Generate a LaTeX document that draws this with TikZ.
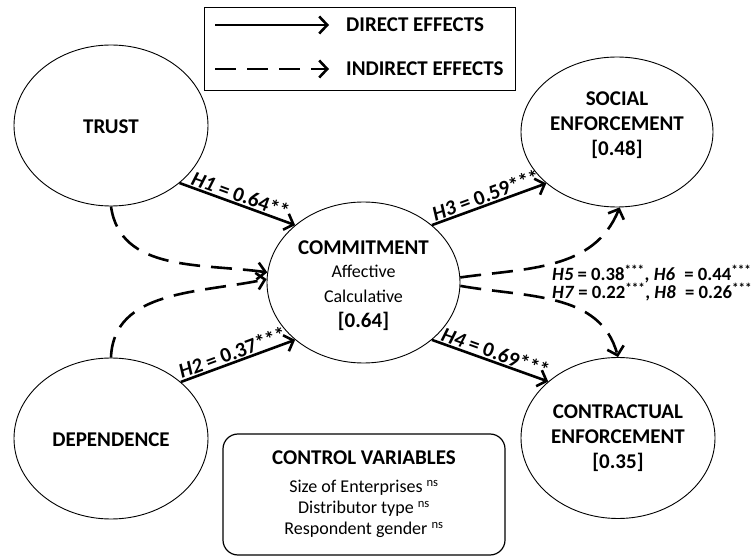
\documentclass[tikz,border=0pt]{standalone}
\usepackage{fontspec}
\setmainfont{Carlito}
\usetikzlibrary{arrows.meta,shapes.geometric}
\begin{document}
\begin{tikzpicture}[x=1pt,y=-1pt,
  latent/.style={draw, ellipse, line width=0.9pt, inner sep=0pt,
    minimum width=194pt, minimum height=161pt},
  ltext/.style={align=center, inner sep=0pt, font=\bfseries\fontsize{21}{25}\selectfont},
  direct/.style={line width=2.6pt, -{Straight Barb[length=8pt,width=17pt]}},
  indirect/.style={direct, dash pattern=on 21pt off 11pt},
  lab/.style={font=\bfseries\fontsize{21}{22}\selectfont, sloped, above, inner sep=1pt},
  legtext/.style={anchor=west, font=\bfseries\fontsize{21}{22}\selectfont, inner sep=0pt},
  ctext/.style={font=\fontsize{18}{21}\selectfont},
]
\useasboundingbox (0,0) rectangle (753,556);

% legend
\node[draw, line width=0.9pt, minimum width=311pt, minimum height=83pt, inner sep=0pt] (legend) at (359.5,48.5) {};
\coordinate (d1) at (215,25);
\coordinate (d2) at (329,25);
\coordinate (i1) at (215,69);
\coordinate (i2) at (329,69);
\node[legtext] (ldir) at (346,25) {DIRECT EFFECTS};
\node[legtext] (lind) at (346,69) {INDIRECT EFFECTS};
\draw[direct] (d1) -- (d2);
\draw[indirect] (i1) -- (i2);

% latent variables
\node[latent, label={[name=ttrust, ltext, yshift=-1pt]center:TRUST}] (trust) at (111,125.5) {};
\node[latent, label={[name=tdep, ltext, yshift=-1pt]center:DEPENDENCE}] (dep) at (111,438.5) {};
\node[latent, minimum width=193pt,
  label={[name=tcommit, ltext, yshift=-3pt]center:{COMMITMENT\\[-2pt]{\mdseries\fontsize{18}{22}\selectfont Affective}\\{\mdseries\fontsize{18}{22}\selectfont Calculative}\\{[0.64]}}}]
  (commit) at (363.5,282.5) {};
\node[latent, minimum width=192pt, minimum height=150pt,
  label={[name=tsocial, ltext, yshift=7pt]center:{SOCIAL\\ENFORCEMENT\\{[0.48]}}}]
  (social) at (617,132) {};
\node[latent,
  label={[name=tcontract, ltext]center:{CONTRACTUAL\\ENFORCEMENT\\{[0.35]}}}]
  (contract) at (618,438) {};

% direct effects
\draw[direct] (trust.-40) -- node[lab, pos=0.5] {\textit{H1} = 0.64**} (commit.140);
\draw[direct] (dep.39) -- node[lab, pos=0.48] {\textit{H2} = 0.37***} (commit.220);
\draw[direct] (commit.40) -- node[lab, pos=0.5] {\textit{H3} = 0.59***} (social.216);
\draw[direct] (commit.-40) -- node[lab, pos=0.52] {\textit{H4} = 0.69***} (contract.141);

% indirect effects
\draw[indirect] (trust.south) to[out=-82, in=172] (commit.174);
\draw[indirect] (dep.north) to[out=88, in=192] (commit.178);
\draw[indirect] (commit.3) to[out=8, in=-112] (social.-88);
\draw[indirect] (commit.-2) to[out=-10, in=105] (contract.north);

\node[anchor=west, align=left, inner sep=0pt, font=\bfseries\fontsize{18.7}{18.5}\selectfont] (hlab) at (552,283)
  {\textit{H5} = 0.38\textsuperscript{***}, \textit{H6}\enspace= 0.44\textsuperscript{***}\\
   \textit{H7} = 0.22\textsuperscript{***}, \textit{H8}\enspace= 0.26\textsuperscript{***}};

% control variables
\node[draw, rounded corners=15pt, line width=1.2pt, minimum width=282pt, minimum height=121pt,
  align=center, ctext] (ctrl) at (364,494.5)
  {{\bfseries\fontsize{21}{20}\selectfont CONTROL VARIABLES}\\[7pt]
   Size of Enterprises \textsuperscript{ns}\\
   Distributor type \textsuperscript{ns}\\
   Respondent gender \textsuperscript{ns}};
\end{tikzpicture}
\end{document}
